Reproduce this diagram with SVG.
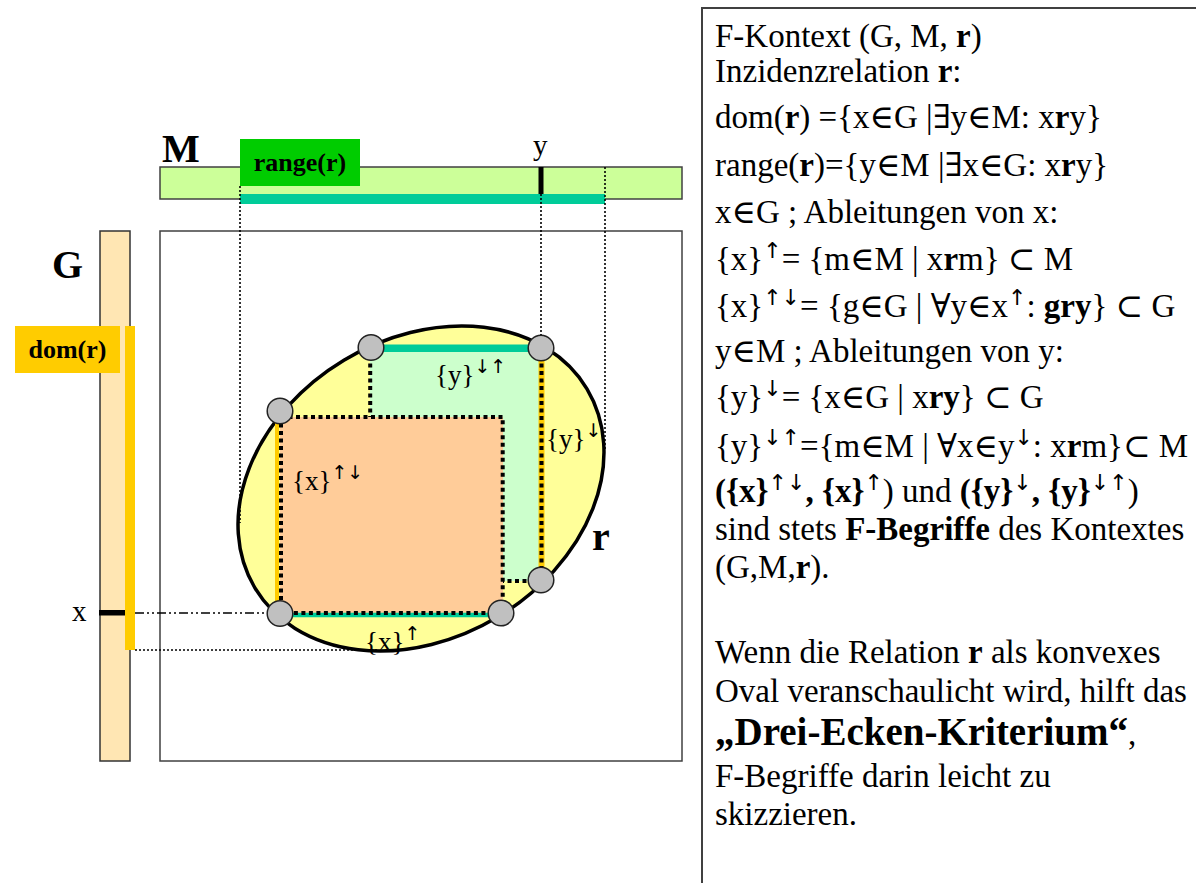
<svg xmlns="http://www.w3.org/2000/svg" width="1196" height="883" viewBox="0 0 1196 883">
<style>
text{font-family:"Liberation Serif","DejaVu Serif",serif;fill:#000}
.t{font-size:33px}
.b{font-weight:bold}
.sup{font-size:22px;font-family:"DejaVu Sans",sans-serif;font-weight:normal}
.lbl{font-size:27px}
.lsup{font-size:19px;font-family:"DejaVu Sans",sans-serif}
.frame{fill:#fff;stroke:#404040;stroke-width:1.5}
.dot{stroke:#000;stroke-width:1.6;stroke-dasharray:2,2;fill:none}
.tdot{stroke:#000;stroke-width:4;stroke-dasharray:4,3.5;fill:none}
.corner{fill:#C0C0C0;stroke:#222;stroke-width:1.5}
</style>

<g id="context-box">
<rect class="frame" x="160" y="231" width="522" height="530"/>
</g>

<g id="G-axis">
<rect x="100" y="231" width="30" height="530" fill="#FFE6B3" stroke="#333" stroke-width="1.5"/>
<text x="52" y="278" class="b" font-size="40">G</text>
<rect x="125" y="326" width="10" height="324" fill="#FFCC00"/>
<rect x="99" y="610" width="26" height="5.5" fill="#000"/>
<text x="72" y="621" font-size="29">x</text>
</g>

<g id="dom">
<rect x="15" y="326" width="105" height="47" fill="#FFCC00"/>
<text x="67.5" y="358" class="b" font-size="26" text-anchor="middle">dom(r)</text>
</g>

<g id="M-axis">
<rect x="160" y="167" width="522" height="32" fill="#CCFF99" stroke="#404040" stroke-width="1.5"/>
<text x="162" y="162" class="b" font-size="40">M</text>
<rect x="240" y="194" width="365" height="10" fill="#00CC99"/>
<rect x="538.5" y="167" width="5" height="27" fill="#000"/>
<text x="533" y="155" font-size="29">y</text>
</g>

<g id="range">
<rect x="240" y="139" width="120" height="47" fill="#00CC00"/>
<text x="300" y="171" class="b" font-size="26" text-anchor="middle">range(r)</text>
</g>

<g id="relation">
<ellipse cx="421" cy="488.5" rx="193.6" ry="149.7" transform="rotate(-31 421 488.5)" fill="#FFFF99" stroke="#000" stroke-width="3.5"/>
<text x="592" y="550" class="b" font-size="40">r</text>
</g>

<g id="concept-y">
<rect x="370" y="348" width="171.5" height="233" fill="#CCFFCC"/>
<rect x="371" y="344.5" width="170" height="7.5" fill="#00CC99"/>
<line x1="541.5" y1="350" x2="541.5" y2="580" stroke="#FFCC00" stroke-width="6"/>
<polyline class="tdot" points="370.2,356 370.2,417"/>
<polyline class="tdot" points="541.5,356 541.5,581 503,581"/>
<text x="435" y="384" class="lbl">{y}<tspan class="lsup" dy="-11">↓↑</tspan></text>
<text x="546" y="448" class="lbl">{y}<tspan class="lsup" dy="-11">↓</tspan></text>
</g>

<g id="concept-x">
<rect x="280" y="417" width="223" height="196" fill="#FFCC99"/>
<line x1="277" y1="411" x2="277" y2="613" stroke="#FFCC00" stroke-width="4"/>
<line x1="280" y1="615" x2="501" y2="615" stroke="#00CC99" stroke-width="4.5"/>
<rect class="tdot" x="281" y="417" width="221.7" height="196"/>
<text x="292" y="490" class="lbl">{x}<tspan class="lsup" dy="-11">↑↓</tspan></text>
<text x="365" y="651" class="lbl">{x}<tspan class="lsup" dy="-11">↑</tspan></text>
</g>

<g id="corners">
<circle class="corner" cx="371" cy="347.5" r="12.8"/>
<circle class="corner" cx="541" cy="348" r="12.8"/>
<circle class="corner" cx="280" cy="411" r="12.8"/>
<circle class="corner" cx="541" cy="580" r="12.8"/>
<circle class="corner" cx="280" cy="613.5" r="12.8"/>
<circle class="corner" cx="501" cy="613" r="12.8"/>
</g>

<g id="connectors">
<line class="dot" x1="240" y1="186" x2="240" y2="523"/>
<line class="dot" x1="541" y1="194" x2="541" y2="335"/>
<line class="dot" x1="605" y1="167" x2="605" y2="450"/>
<line x1="135" y1="613" x2="267" y2="613" stroke="#000" stroke-width="1.6" stroke-dasharray="9,3,2,3,2,3"/>
<line class="dot" x1="135" y1="650" x2="378" y2="650"/>
</g>

<g id="text-panel">
<rect x="702" y="8" width="600" height="900" fill="#fff" stroke="#404040" stroke-width="2"/>
<text class="t" x="715" y="47">F-Kontext (G, M, <tspan class="b">r</tspan>)</text>
<text class="t" x="715" y="82">Inzidenzrelation <tspan class="b">r</tspan>:</text>
<text class="t" x="715" y="128">dom(<tspan class="b">r</tspan>) ={x∈G |∃y∈M: x<tspan class="b">r</tspan>y}</text>
<text class="t" x="715" y="176">range(<tspan class="b">r</tspan>)={y∈M |∃x∈G: x<tspan class="b">r</tspan>y}</text>
<text class="t" x="715" y="223">x∈G ; Ableitungen von x:</text>
<text class="t" x="715" y="270">{x}<tspan class="sup" dy="-12">↑</tspan><tspan dy="12">= {m∈M | x</tspan><tspan class="b">r</tspan>m} ⊂ M</text>
<text class="t" x="715" y="317">{x}<tspan class="sup" dy="-12">↑↓</tspan><tspan dy="12">= {g∈G | ∀y∈x</tspan><tspan class="sup" dy="-12">↑</tspan><tspan dy="12">: </tspan><tspan class="b">gry</tspan>} ⊂ G</text>
<text class="t" x="715" y="362">y∈M ; Ableitungen von y:</text>
<text class="t" x="715" y="408">{y}<tspan class="sup" dy="-12">↓</tspan><tspan dy="12">= {x∈G | x</tspan><tspan class="b">ry</tspan>} ⊂ G</text>
<text class="t" x="715" y="457">{y}<tspan class="sup" dy="-12">↓↑</tspan><tspan dy="12">={m∈M | ∀x∈y</tspan><tspan class="sup" dy="-12">↓</tspan><tspan dy="12">: x</tspan><tspan class="b">r</tspan>m}⊂ M</text>
<text class="t" x="715" y="502"><tspan class="b">({x}</tspan><tspan class="sup" dy="-12">↑↓</tspan><tspan class="b" dy="12">, {x}</tspan><tspan class="sup" dy="-12">↑</tspan><tspan dy="12">) und </tspan><tspan class="b">({y}</tspan><tspan class="sup" dy="-12">↓</tspan><tspan class="b" dy="12">, {y}</tspan><tspan class="sup" dy="-12">↓↑</tspan><tspan dy="12">)</tspan></text>
<text class="t" x="715" y="540">sind stets <tspan class="b">F-Begriffe</tspan> des Kontextes</text>
<text class="t" x="715" y="578">(G,M,<tspan class="b">r</tspan>).</text>
<text class="t" x="715" y="663">Wenn die Relation <tspan class="b">r</tspan> als konvexes</text>
<text class="t" x="715" y="702">Oval veranschaulicht wird, hilft das</text>
<text class="t" x="715" y="745"><tspan class="b" font-size="39">„Drei-Ecken-Kriterium“</tspan>,</text>
<text class="t" x="715" y="787">F-Begriffe darin leicht zu</text>
<text class="t" x="715" y="825">skizzieren.</text>
</g>
</svg>
